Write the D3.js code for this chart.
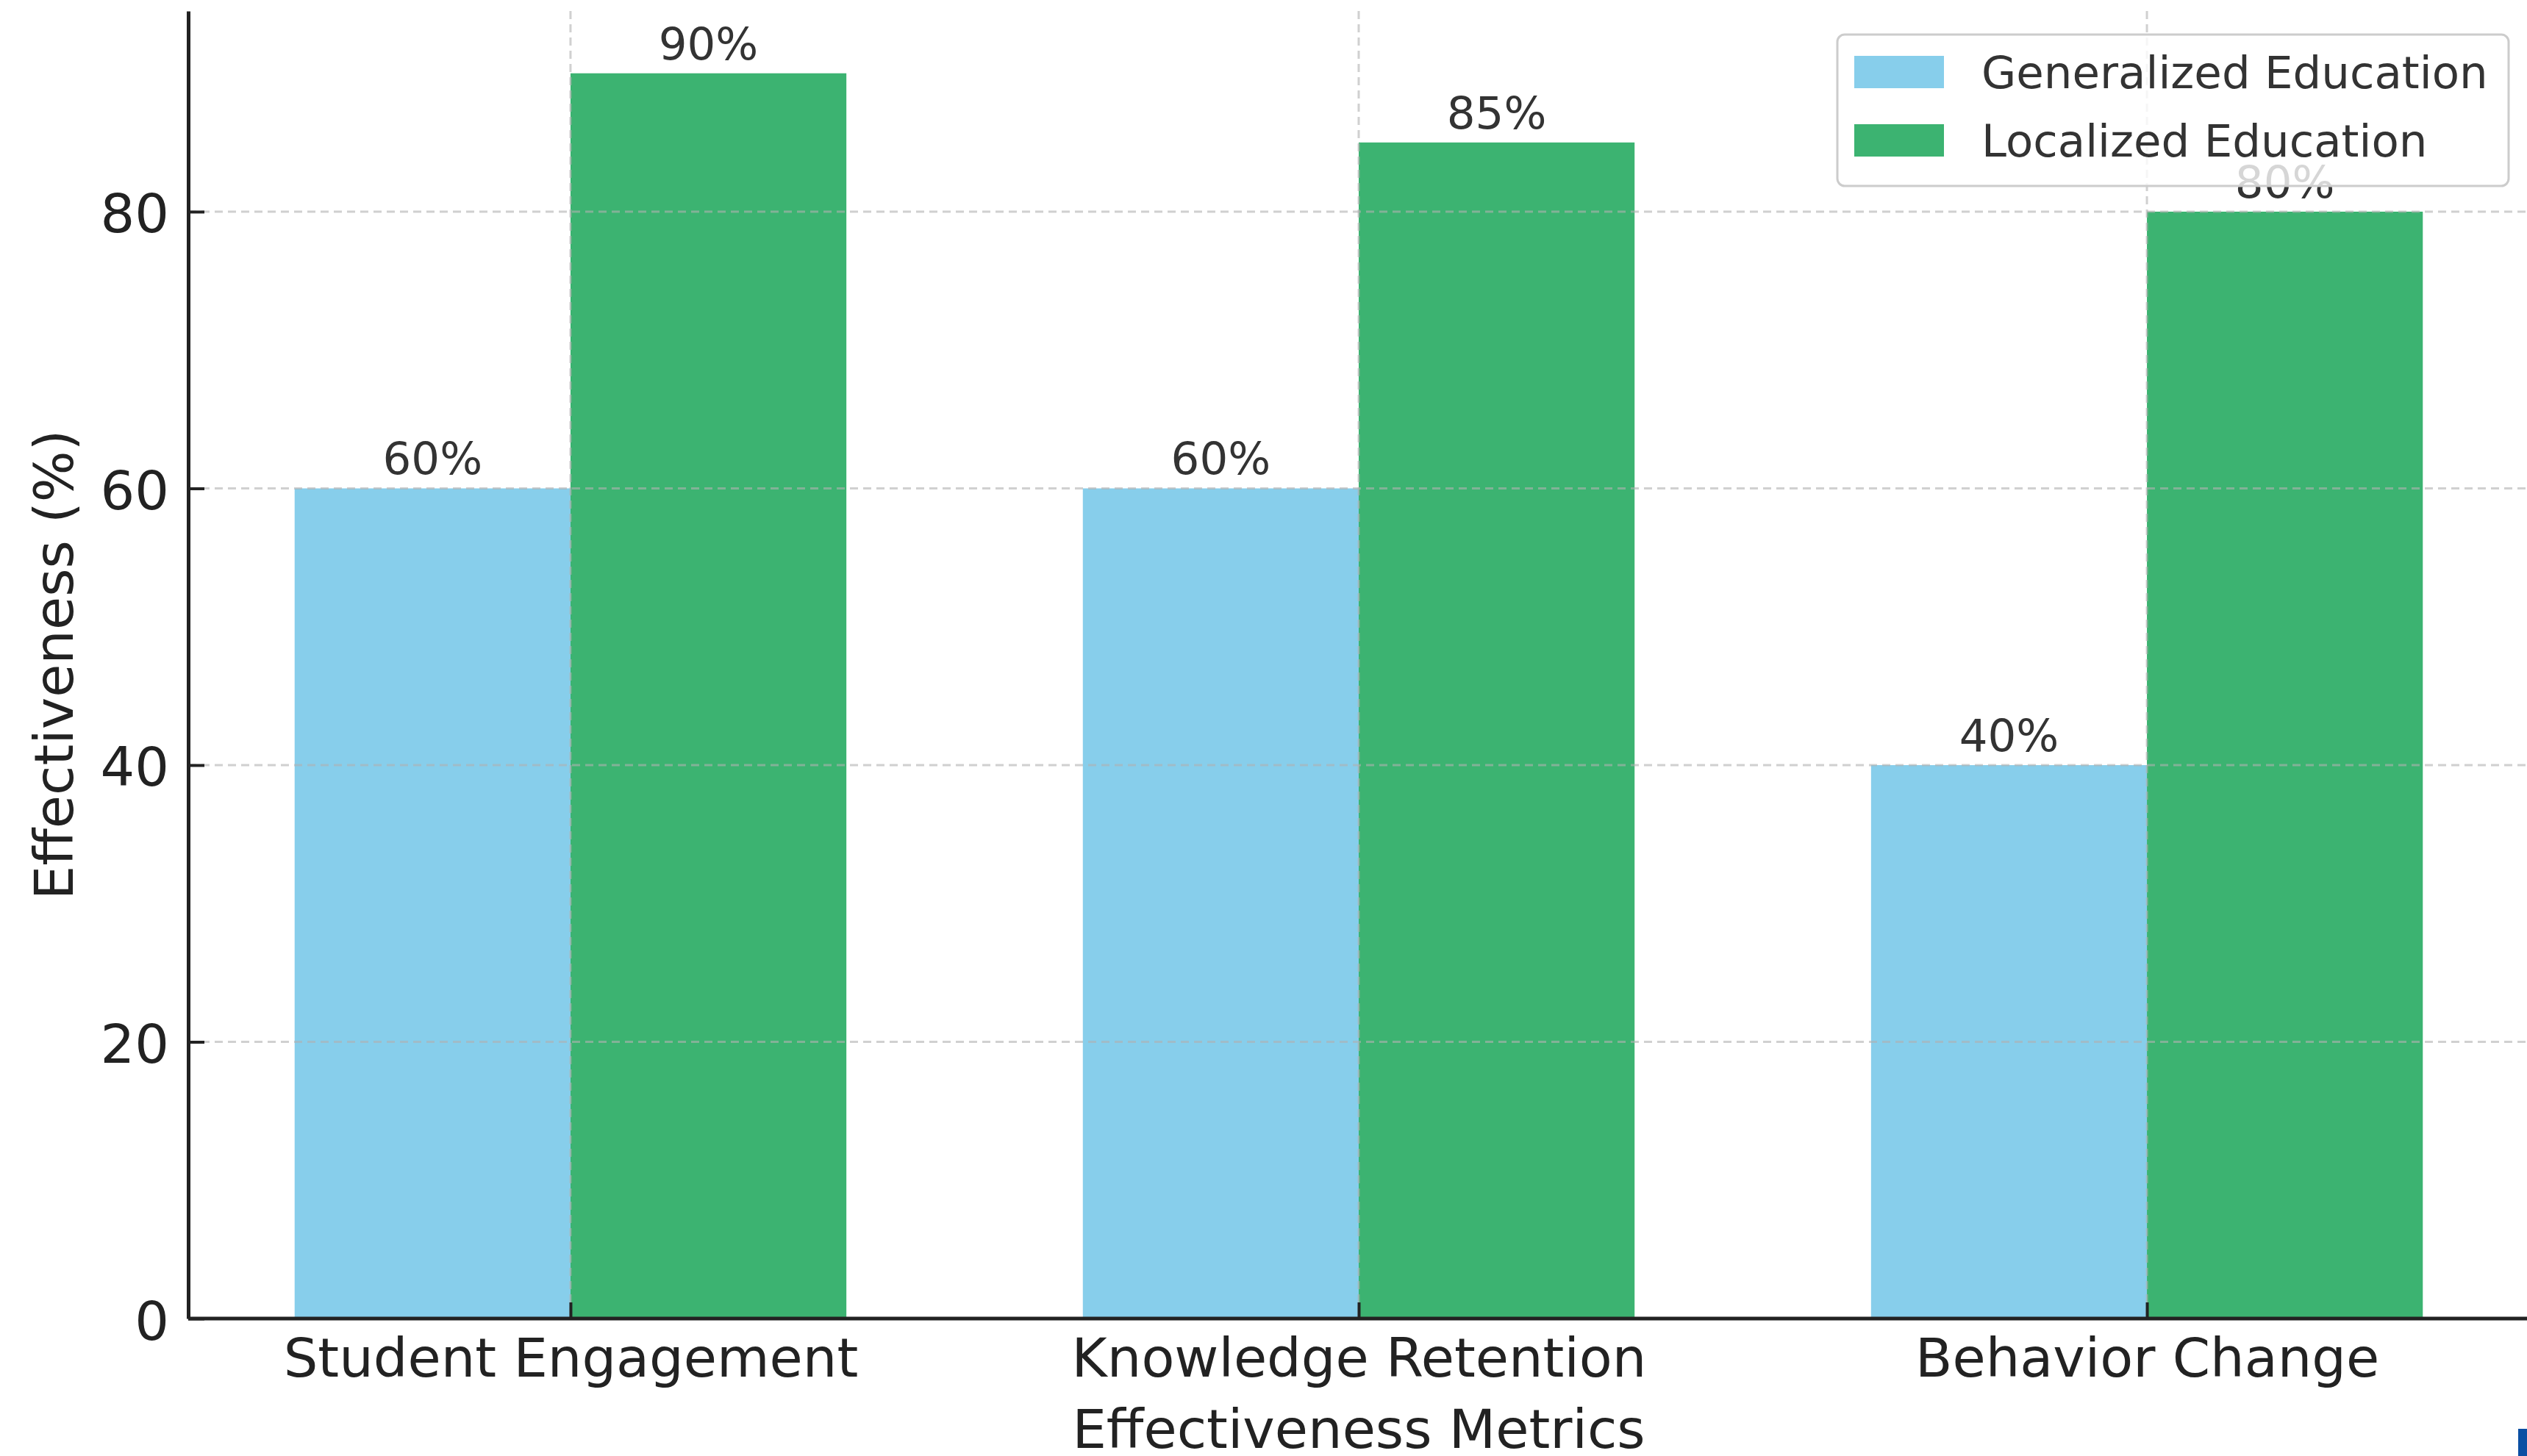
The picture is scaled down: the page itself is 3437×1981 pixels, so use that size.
<!DOCTYPE html>
<html>
<head>
<meta charset="utf-8">
<script src="https://cdn.jsdelivr.net/npm/d3@7"></script>
<style>
  html, body { margin: 0; padding: 0; background: #ffffff; }
  svg { display: block; }
  text { font-family: "DejaVu Sans", sans-serif; }
</style>
</head>
<body>
<svg id="chart" width="3437" height="1981"></svg>
<script>
// ---- data ----
const categories = ["Student Engagement", "Knowledge Retention", "Behavior Change"];
const seriesNames = ["Generalized Education", "Localized Education"];
const generalized = [60, 60, 40];
const localized = [90, 85, 80];
const yTicks = [0, 20, 40, 60, 80];
const colors = ["#87CEEB", "#3CB371"];
const yLabel = "Effectiveness (%)";
const xLabel = "Effectiveness Metrics";

const W = 3437, H = 1981;
const FS_BIG = 73.5, FS_SMALL = 61;
const svg = d3.select("#chart");

const barW = 0.35;
const x = d3.scaleLinear().domain([-0.485, 2.485]).range([256, 3440]);
const y = d3.scaleLinear().domain([0, 94.5]).range([1794, 15]);

const series = [generalized, localized];
const bars = [];
series.forEach((vals, s) => {
  vals.forEach((v, i) => {
    bars.push({ s, i, v, x0: i + (s === 0 ? -barW : 0) });
  });
});

// bars
svg.append("g").selectAll("rect").data(bars).join("rect")
  .attr("x", d => x(d.x0))
  .attr("width", d => x(d.x0 + barW) - x(d.x0))
  .attr("y", d => y(d.v))
  .attr("height", d => y(0) - y(d.v))
  .attr("fill", d => colors[d.s]);

// grid (drawn above bars, semi-transparent)
const grid = svg.append("g").attr("stroke", "#b0b0b0").attr("stroke-opacity", 0.6)
  .attr("stroke-width", 3).attr("stroke-dasharray", "11,7").attr("fill", "none");
grid.selectAll("line.h").data(yTicks.filter(t => t > 0)).join("line")
  .attr("class", "h")
  .attr("x1", x.range()[0]).attr("x2", W)
  .attr("y1", d => y(d)).attr("y2", d => y(d));
grid.selectAll("line.v").data(categories.map((c, i) => i)).join("line")
  .attr("class", "v")
  .attr("x1", d => x(d)).attr("x2", d => x(d))
  .attr("y1", y.range()[1]).attr("y2", y(0));

// annotations
svg.append("g").selectAll("text").data(bars).join("text")
  .attr("x", d => x(d.x0 + barW / 2))
  .attr("y", d => y(d.v) - 19)
  .attr("text-anchor", "middle")
  .attr("font-size", FS_SMALL)
  .attr("fill", "#333333")
  .text(d => d.v + "%");

// axes
const yAxis = d3.axisLeft(y).tickValues(yTicks).tickSizeInner(-22).tickSizeOuter(0).tickPadding(26);
const gy = svg.append("g").attr("transform", `translate(${x.range()[0]},0)`).call(yAxis);
gy.select(".domain").attr("stroke", "#222222").attr("stroke-width", 5);
gy.selectAll(".tick line").attr("stroke", "#222222").attr("stroke-width", 4);
gy.selectAll(".tick text").attr("font-size", FS_BIG).attr("fill", "#222222")
  .attr("font-family", "DejaVu Sans").attr("dy", null).attr("y", 28);

const xAxis = d3.axisBottom(x).tickValues([0, 1, 2]).tickFormat(i => categories[i])
  .tickSizeInner(-22).tickSizeOuter(0).tickPadding(0);
const gx = svg.append("g").attr("transform", `translate(0,${y(0)})`).call(xAxis);
gx.select(".domain").attr("stroke", "#222222").attr("stroke-width", 5)
  .attr("d", `M${x.range()[0]},0H${W}`);
gx.selectAll(".tick line").attr("stroke", "#222222").attr("stroke-width", 4);
gx.selectAll(".tick text").attr("font-size", FS_BIG).attr("fill", "#222222")
  .attr("font-family", "DejaVu Sans").attr("dy", null).attr("y", 79);

// axis labels
svg.append("text")
  .attr("transform", `translate(99,${(y.range()[0] + y.range()[1]) / 2}) rotate(-90)`)
  .attr("text-anchor", "middle").attr("font-size", FS_BIG).attr("fill", "#222222")
  .text(yLabel);
svg.append("text")
  .attr("x", (x.range()[0] + x.range()[1]) / 2).attr("y", 1970)
  .attr("text-anchor", "middle").attr("font-size", FS_BIG).attr("fill", "#222222")
  .text(xLabel);

// legend
const lg = svg.append("g");
lg.append("rect").attr("x", 2499).attr("y", 47).attr("width", 913).attr("height", 206)
  .attr("rx", 10).attr("fill", "#ffffff").attr("fill-opacity", 0.8)
  .attr("stroke", "#cccccc").attr("stroke-width", 3);
const items = lg.selectAll("g.item").data(seriesNames).join("g").attr("class", "item")
  .attr("transform", (d, i) => `translate(0,${i * 93})`);
items.append("rect").attr("x", 2522).attr("y", 76).attr("width", 122).attr("height", 44)
  .attr("fill", (d, i) => colors[i]);
items.append("text").attr("x", 2695).attr("y", 120).attr("font-size", FS_SMALL)
  .attr("fill", "#333333").text(d => d);

// small corner mark seen in the reference
svg.append("rect").attr("x", 3425).attr("y", 1944).attr("width", 12).attr("height", 37)
  .attr("fill", "#0b4fa3");
</script>
</body>
</html>
